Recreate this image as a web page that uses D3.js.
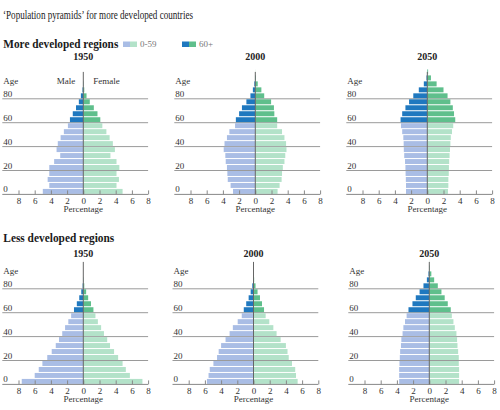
<!DOCTYPE html>
<html>
<head>
<meta charset="utf-8">
<script src="https://cdn.jsdelivr.net/npm/d3@7"></script>
<style>
  body { margin: 0; background: #fff; }
  text { font-family: "Liberation Serif", "DejaVu Serif", serif; }
</style>
</head>
<body>
<svg id="chart" width="500" height="410"></svg>
<script>
// Gruppi di età (5 anni), dal basso verso l'alto
const ageGroups = ["0-4", "5-9", "10-14", "15-19", "20-24", "25-29", "30-34", "35-39", "40-44", "45-49",
  "50-54", "55-59", "60-64", "65-69", "70-74", "75-79", "80-84", "85-89", "90-94", "95-99", "100+"];
const ageTicks = [0, 20, 40, 60, 80];
const pctTicks = [-8, -6, -4, -2, 0, 2, 4, 6, 8];
const years = ["1950", "2000", "2050"];

// Percentuali (maschi a sinistra, femmine a destra)
const moreMale1950 = [5.0, 4.2, 4.4, 4.2, 4.2, 3.6, 2.85, 3.3, 3.15, 2.8, 2.4, 1.9, 1.65, 1.3, 0.9, 0.55, 0.3, 0.1, 0.02, 0, 0];
const moreFemale1950 = [4.85, 4.1, 4.4, 4.1, 4.45, 4.1, 3.35, 3.9, 3.65, 3.25, 2.85, 2.35, 2.1, 1.75, 1.3, 0.8, 0.4, 0.12, 0.03, 0, 0];
const moreMale2000 = [2.75, 3.05, 3.4, 3.45, 3.5, 3.65, 3.7, 3.9, 3.8, 3.5, 3.2, 2.5, 2.4, 2.0, 1.65, 1.1, 0.6, 0.3, 0.12, 0.03, 0];
const moreFemale2000 = [2.75, 3.0, 3.25, 3.3, 3.4, 3.6, 3.7, 3.85, 3.8, 3.6, 3.3, 2.7, 2.7, 2.35, 2.3, 1.95, 1.1, 0.75, 0.3, 0.08, 0.01];
const moreMale2050 = [2.63, 2.63, 2.65, 2.68, 2.7, 2.75, 2.85, 2.9, 2.92, 2.96, 3.1, 3.25, 3.3, 3.1, 2.7, 2.25, 1.73, 1.05, 0.43, 0.1, 0.02];
const moreFemale2050 = [2.55, 2.6, 2.6, 2.65, 2.67, 2.7, 2.75, 2.8, 2.85, 2.9, 3.05, 3.2, 3.45, 3.3, 3.15, 2.85, 2.5, 2.0, 1.15, 0.45, 0.1];
const lessMale1950 = [7.6, 6.0, 5.5, 5.05, 4.45, 3.9, 3.4, 3.0, 2.6, 2.25, 1.85, 1.5, 1.15, 0.8, 0.5, 0.25, 0.08, 0.02, 0, 0, 0];
const lessFemale1950 = [7.3, 5.75, 5.25, 4.85, 4.3, 3.8, 3.3, 2.95, 2.55, 2.2, 1.8, 1.5, 1.25, 0.95, 0.6, 0.35, 0.12, 0.03, 0, 0, 0];
const lessMale2000 = [5.75, 5.55, 5.4, 4.95, 4.5, 4.3, 4.0, 3.45, 2.95, 2.55, 1.95, 1.45, 1.2, 0.9, 0.6, 0.35, 0.15, 0.05, 0.01, 0, 0];
const lessFemale2000 = [5.45, 5.25, 5.15, 4.75, 4.35, 4.2, 4.0, 3.35, 2.85, 2.45, 1.95, 1.5, 1.3, 1.05, 0.8, 0.5, 0.25, 0.08, 0.02, 0, 0];
const lessMale2050 = [3.72, 3.72, 3.72, 3.68, 3.64, 3.6, 3.5, 3.45, 3.3, 3.2, 3.0, 2.8, 2.57, 2.08, 1.67, 1.2, 0.72, 0.3, 0.1, 0.02, 0];
const lessFemale2050 = [3.68, 3.68, 3.68, 3.64, 3.64, 3.56, 3.48, 3.43, 3.35, 3.15, 2.98, 2.78, 2.65, 2.28, 1.9, 1.5, 1.05, 0.6, 0.25, 0.06, 0.01];

const colors = {
  maleYoung: "#a9bde5",
  femaleYoung: "#b3e2c9",
  maleOld: "#1f78bf",
  femaleOld: "#5fbf8c",
};

// Layout
const baselines = [194.4, 384.4];
const centers = [[83.3, 255.3, 427.3], [83.3, 253.5, 429.3]];
const pxPerPct = 8.1;
const pxPerYear = 1.195;

const svg = d3.select("#chart");
svg.append("rect").attr("width", 500).attr("height", 410).attr("fill", "#fff");

// Titolo
svg.append("text")
  .attr("x", 3).attr("y", 18.5)
  .attr("font-family", '"Liberation Sans Narrow", "DejaVu Sans Condensed", sans-serif')
  .attr("font-size", 13)
  .attr("fill", "#222")
  .attr("textLength", 190)
  .attr("lengthAdjust", "spacingAndGlyphs")
  .text("\u2018Population pyramids\u2019 for more developed countries");

// Intestazioni di riga
const headings = ["More developed regions", "Less developed regions"];
const headingY = [47.5, 242];
const headingW = [115, 111];
headings.forEach((h, i) => {
  svg.append("text")
    .attr("x", 3.3).attr("y", headingY[i])
    .attr("font-size", 12).attr("font-weight", "bold").attr("fill", "#1a1a1a")
    .attr("textLength", headingW[i]).attr("lengthAdjust", "spacingAndGlyphs")
    .text(h);
});

// Legenda
const legendItems = [
  { label: "0-59", a: colors.maleYoung, b: colors.femaleYoung, x: 123 },
  { label: "60+", a: colors.maleOld, b: colors.femaleOld, x: 182 },
];
legendItems.forEach((it) => {
  svg.append("rect").attr("x", it.x).attr("y", 41.5).attr("width", 7).attr("height", 5.5).attr("fill", it.a);
  svg.append("rect").attr("x", it.x + 7).attr("y", 41.5).attr("width", 7).attr("height", 5.5).attr("fill", it.b);
  svg.append("text").attr("x", it.x + 17).attr("y", 47).attr("font-size", 9).attr("fill", "#777").text(it.label);
});

const panels = [
  { row: 0, col: 0, male: moreMale1950, female: moreFemale1950 },
  { row: 0, col: 1, male: moreMale2000, female: moreFemale2000 },
  { row: 0, col: 2, male: moreMale2050, female: moreFemale2050 },
  { row: 1, col: 0, male: lessMale1950, female: lessFemale1950 },
  { row: 1, col: 1, male: lessMale2000, female: lessFemale2000 },
  { row: 1, col: 2, male: lessMale2050, female: lessFemale2050 },
];
const yearLabelOffset = [134, 127.4];

function drawPanel(p) {
  const cx = centers[p.row][p.col];
  const base = baselines[p.row];
  const x = d3.scaleLinear().domain([-8, 8]).range([cx - 8 * pxPerPct, cx + 8 * pxPerPct]);
  const y = d3.scaleLinear().domain([0, 100]).range([base, base - 100 * pxPerYear]);
  const g = svg.append("g");

  // Linee della griglia per età
  g.selectAll("line.grid")
    .data(ageTicks.filter((d) => d > 0))
    .join("line")
    .attr("class", "grid")
    .attr("x1", x(-10)).attr("x2", x(8))
    .attr("y1", (d) => y(d)).attr("y2", (d) => y(d))
    .attr("stroke", "#9a9a9a").attr("stroke-width", 1);

  // Barre
  const rows = ageGroups.map((a, i) => ({ start: i * 5, male: p.male[i], female: p.female[i] }));
  const barY = (d) => y(d.start + 5) + 0.5;
  const barH = (d) => y(d.start) - y(d.start + 5) - 1;
  g.selectAll("rect.male")
    .data(rows)
    .join("rect")
    .attr("class", "male")
    .attr("x", (d) => x(-d.male))
    .attr("width", (d) => x(0) - x(-d.male))
    .attr("y", barY).attr("height", barH)
    .attr("fill", (d) => (d.start >= 60 ? colors.maleOld : colors.maleYoung));
  g.selectAll("rect.female")
    .data(rows)
    .join("rect")
    .attr("class", "female")
    .attr("x", x(0))
    .attr("width", (d) => x(d.female) - x(0))
    .attr("y", barY).attr("height", barH)
    .attr("fill", (d) => (d.start >= 60 ? colors.femaleOld : colors.femaleYoung));

  // Etichette età
  g.selectAll("text.age")
    .data(ageTicks)
    .join("text")
    .attr("class", "age")
    .attr("x", x(-10) + 1)
    .attr("y", (d) => y(d) - 2)
    .attr("font-size", 9).attr("fill", "#333")
    .text((d) => d);
  g.append("text")
    .attr("x", x(-10) + 1).attr("y", base - 110)
    .attr("font-size", 9).attr("fill", "#333")
    .text("Age");

  // Asse orizzontale
  g.append("line")
    .attr("x1", x(-10)).attr("x2", x(8))
    .attr("y1", base).attr("y2", base)
    .attr("stroke", "#888");
  const axis = d3.axisBottom(x)
    .tickValues(pctTicks)
    .tickFormat((d) => Math.abs(d))
    .tickSizeInner(-4).tickSizeOuter(0).tickPadding(3);
  const ax = g.append("g").attr("transform", `translate(0,${base})`).call(axis);
  ax.select(".domain").remove();
  ax.selectAll(".tick line").attr("stroke", "#888");
  ax.selectAll(".tick text")
    .attr("font-family", '"Liberation Serif", "DejaVu Serif", serif')
    .attr("font-size", 9).attr("fill", "#333");

  // Linea centrale
  g.append("line")
    .attr("x1", x(0)).attr("x2", x(0))
    .attr("y1", base).attr("y2", base - 122.5)
    .attr("stroke", "#666").attr("stroke-width", 1);

  g.append("text")
    .attr("x", x(0)).attr("y", base + 18)
    .attr("text-anchor", "middle")
    .attr("font-size", 9).attr("fill", "#333")
    .text("Percentage");

  g.append("text")
    .attr("x", x(0)).attr("y", base - yearLabelOffset[p.row])
    .attr("text-anchor", "middle")
    .attr("font-size", 10).attr("font-weight", "bold").attr("fill", "#222")
    .text(years[p.col]);

  if (p.row === 0 && p.col === 0) {
    g.append("text").attr("x", x(0) - 8).attr("y", base - 110)
      .attr("text-anchor", "end").attr("font-size", 9).attr("fill", "#333").text("Male");
    g.append("text").attr("x", x(0) + 10).attr("y", base - 110)
      .attr("font-size", 9).attr("fill", "#333").text("Female");
  }
}

panels.forEach(drawPanel);
</script>
</body>
</html>
